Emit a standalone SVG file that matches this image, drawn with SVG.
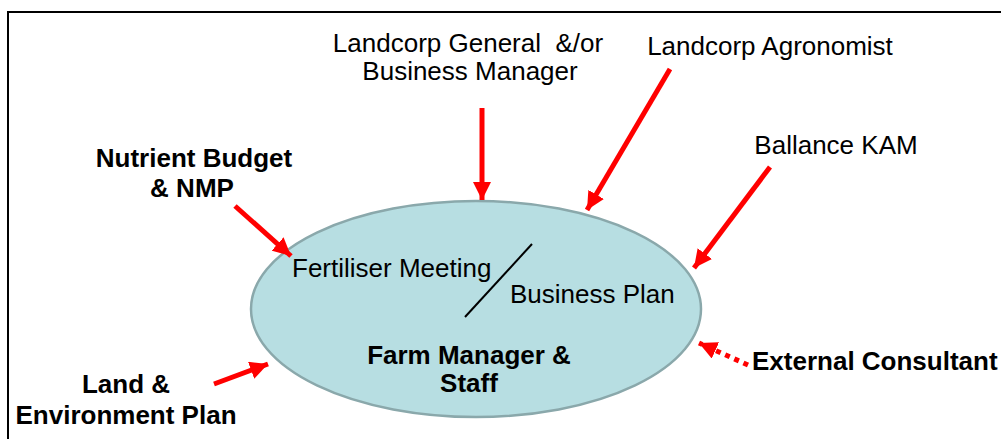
<svg xmlns="http://www.w3.org/2000/svg" width="1001" height="439" viewBox="0 0 1001 439">
<style>
.t{font-family:"Liberation Sans",Arial,sans-serif;font-size:26px;fill:#000}
.b{font-weight:bold}
.arr{stroke:#FF0000;stroke-width:5;fill:none}
</style>
<defs>
<marker id="ah" viewBox="0 0 10 10" refX="10" refY="5" markerWidth="3.6" markerHeight="3.6" orient="auto" markerUnits="strokeWidth">
<path d="M0,0 L10,5 L0,10 Z" fill="#FF0000"/>
</marker>
</defs>
<rect x="0" y="0" width="1001" height="439" fill="#fff"/>
<rect x="8" y="12" width="1010" height="450" fill="none" stroke="#000" stroke-width="2"/>
<g id="hub">
<ellipse cx="476" cy="309" rx="225" ry="108" fill="#B7DEE2" stroke="#8AA8AB" stroke-width="2.5"/>
<line x1="465" y1="317" x2="532" y2="244" stroke="#000" stroke-width="2"/>
<text class="t" x="292" y="277">Fertiliser Meeting</text>
<text class="t" x="510" y="303">Business Plan</text>
<text class="t b" x="469" y="364" text-anchor="middle">Farm Manager &amp;</text>
<text class="t b" x="469" y="392" text-anchor="middle">Staff</text>
</g>
<g id="gm">
<text class="t" x="468" y="52" text-anchor="middle" xml:space="preserve">Landcorp General  &amp;/or</text>
<text class="t" x="470" y="80" text-anchor="middle">Business Manager</text>
</g>
<g id="agro"><text class="t" x="770" y="55" text-anchor="middle">Landcorp Agronomist</text></g>
<g id="kam"><text class="t" x="836" y="154" text-anchor="middle">Ballance KAM</text></g>
<g id="nmp">
<text class="t b" x="194" y="167" text-anchor="middle">Nutrient Budget</text>
<text class="t b" x="192" y="197" text-anchor="middle">&amp; NMP</text>
</g>
<g id="lep">
<text class="t b" x="126" y="393" text-anchor="middle">Land &amp;</text>
<text class="t b" x="126" y="424" text-anchor="middle">Environment Plan</text>
</g>
<g id="ext"><text class="t b" x="752" y="370">External Consultant</text></g>
<g id="connectors">
<line class="arr" x1="482" y1="108" x2="482" y2="200" marker-end="url(#ah)"/>
<line class="arr" x1="670" y1="69" x2="587" y2="210" marker-end="url(#ah)"/>
<line class="arr" x1="770" y1="167" x2="694" y2="268" marker-end="url(#ah)"/>
<line class="arr" x1="235" y1="206" x2="291" y2="256" marker-end="url(#ah)"/>
<line class="arr" x1="214" y1="384" x2="268" y2="364" marker-end="url(#ah)"/>
<line class="arr" x1="748" y1="365" x2="699" y2="343" stroke-dasharray="5 5" marker-end="url(#ah)"/>
</g>
</svg>
